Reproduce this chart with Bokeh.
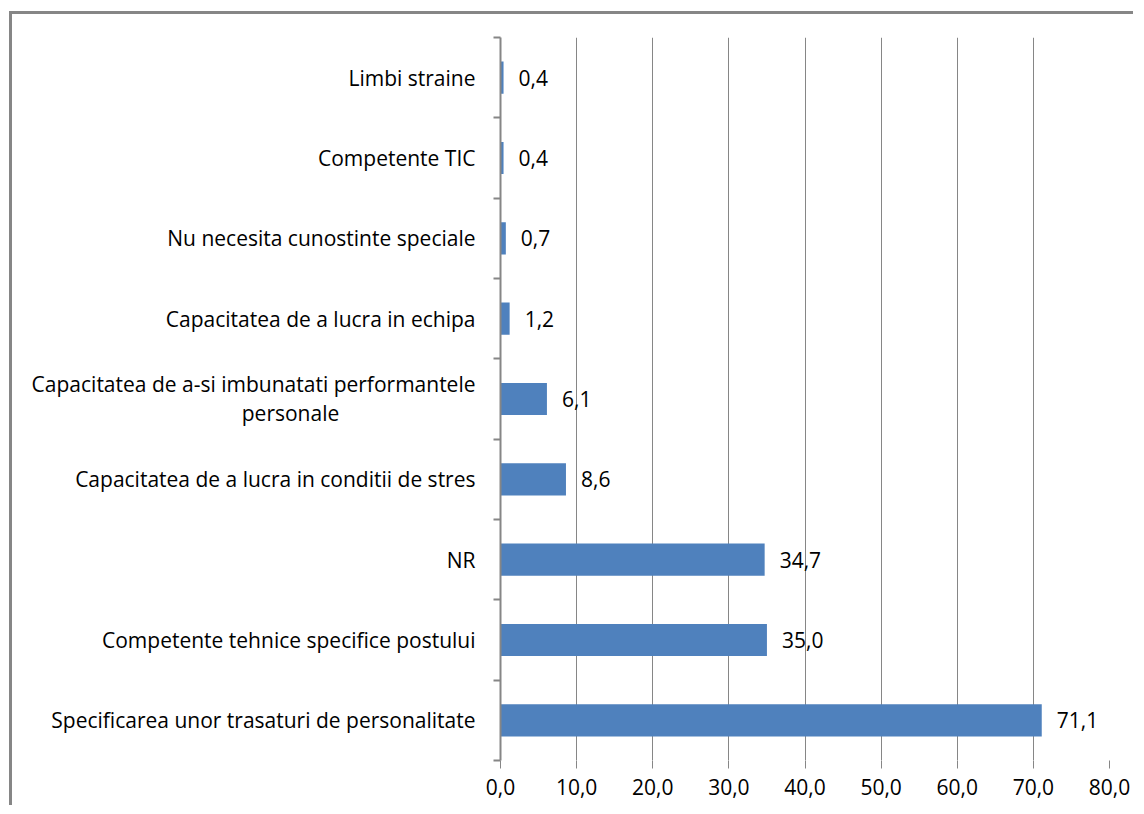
from bokeh.plotting import figure
from bokeh.models import (ColumnDataSource, FixedTicker, CustomJSTickFormatter, Range1d)
from bokeh.embed import file_html
from bokeh.resources import INLINE
from bokeh.core.properties import value

categories = [
    "Specificarea unor trasaturi de personalitate",
    "Competente tehnice specifice postului",
    "NR",
    "Capacitatea de a lucra in conditii de stres",
    "Capacitatea de a-si imbunatati performantele\npersonale",
    "Capacitatea de a lucra in echipa",
    "Nu necesita cunostinte speciale",
    "Competente TIC",
    "Limbi straine",
]
values = [71.1, 35.0, 34.7, 8.6, 6.1, 1.2, 0.7, 0.4, 0.4]
x_ticks = [0, 10, 20, 30, 40, 50, 60, 70, 80]

FONT = "Open Sans"
FS = "21px"
GRAY = "#868686"

pos = [i + 0.5 for i in range(len(categories))]
src = ColumnDataSource(dict(
    y=pos, v=values,
    lbl=[f"{v:.1f}".replace(".", ",") for v in values],
))

# category label rows (multi-line names split into separate rows)
ly, lt, lyo = [], [], []
ly2, lt2 = [], []
for pv, c in zip(pos, categories):
    parts = c.split("\n")
    if len(parts) == 1:
        ly.append(pv); lt.append(c); lyo.append(0)
    else:
        ly.append(pv); lt.append(parts[0]); lyo.append(-15)
        ly2.append(pv); lt2.append(parts[1])
lab_src = ColumnDataSource(dict(x=[0] * len(ly), y=ly, t=lt, yo=lyo))
lab2_src = ColumnDataSource(dict(x=[0] * len(ly2), y=ly2, t=lt2))

W, H = 1124, 794
p = figure(width=W, height=H, output_backend="svg", toolbar_location=None,
           x_range=Range1d(0, 80), y_range=Range1d(0, len(categories)),
           min_border_left=488, min_border_right=W - (1109 - 12), min_border_top=37 - 14,
           min_border_bottom=H - (760 - 14))
p.styles = {"border-left": f"3px solid {GRAY}", "border-top": f"3px solid {GRAY}",
            "margin-left": "9px", "margin-top": "11px"}
p.outline_line_color = None
p.background_fill_color = "white"
p.border_fill_color = "white"

p.hbar(y="y", right="v", left=0, height=0.4, source=src,
       fill_color="#4F81BD", line_color=None)
p.text(x="v", y="y", text="lbl", source=src, x_offset=15,
       text_align="left", text_baseline="middle",
       text_font=value(FONT), text_font_size=FS, text_color="black")

t1 = p.text(x="x", y="y", text="t", source=lab_src, x_offset=-25, y_offset="yo",
            text_align="right", text_baseline="middle",
            text_font=value(FONT), text_font_size=FS, text_color="black")
t2 = p.text(x="x", y="y", text="t", source=lab2_src, x_offset=-210, y_offset=14,
            text_align="center", text_baseline="middle",
            text_font=value(FONT), text_font_size=FS, text_color="black")
for r in (t1, t2):
    r.level = "annotation"

# x axis
p.xaxis.ticker = FixedTicker(ticks=x_ticks)
p.xaxis.formatter = CustomJSTickFormatter(code="return tick.toFixed(1).replace('.', ',');")
p.xaxis.axis_line_color = None
p.xaxis.major_tick_line_color = GRAY
p.xaxis.major_tick_line_width = 1
p.xaxis.major_tick_out = 8
p.xaxis.major_tick_in = 0
p.xaxis.minor_tick_line_color = None
p.xaxis.major_label_text_font = FONT
p.xaxis.major_label_text_font_size = FS
p.xaxis.major_label_text_color = "black"
p.xaxis.major_label_standoff = 10

# y axis (tick marks between categories, names drawn as text)
p.yaxis.ticker = FixedTicker(ticks=pos, minor_ticks=list(range(len(categories) + 1)))
p.yaxis.major_label_overrides = {pv: "" for pv in pos}
p.yaxis.axis_line_color = GRAY
p.yaxis.axis_line_width = 2
p.yaxis.major_tick_line_color = None
p.yaxis.minor_tick_line_color = GRAY
p.yaxis.minor_tick_line_width = 2
p.yaxis.minor_tick_out = 7
p.yaxis.minor_tick_in = 0

p.xgrid.ticker = FixedTicker(ticks=x_ticks)
p.xgrid.grid_line_color = GRAY
p.xgrid.grid_line_width = 1
p.ygrid.grid_line_color = None

open("out.html", "w").write(file_html(p, INLINE))
